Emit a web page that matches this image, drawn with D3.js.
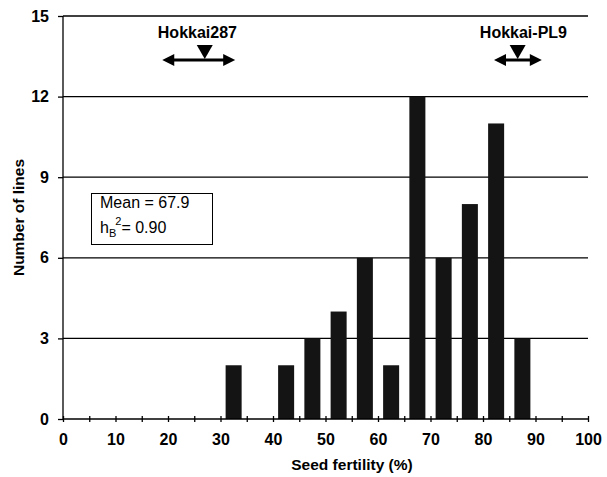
<!DOCTYPE html>
<html>
<head>
<meta charset="utf-8">
<script src="https://d3js.org/d3.v7.min.js"></script>
<style>
  body { margin: 0; background: #fff; }
  text { font-family: "Liberation Sans", Arial, sans-serif; }
</style>
</head>
<body>
<svg id="chart"></svg>
<script>
// data
var binStarts = [30, 40, 45, 50, 55, 60, 65, 70, 75, 80, 85];
var lineCounts = [2, 2, 3, 4, 6, 2, 12, 6, 8, 11, 3];
var xTicks = [0, 10, 20, 30, 40, 50, 60, 70, 80, 90, 100];
var yTicks = [0, 3, 6, 9, 12, 15];

// parent markers: name, label centre, mean, range
var parentNames = ['Hokkai287', 'Hokkai-PL9'];
var parentLabelAt = [25.6, 87.7];
var parentMeans = [27.0, 86.6];
var parentLow = [18.9, 82.1];
var parentHigh = [32.8, 91.2];

var margin = {top: 16, right: 19, bottom: 58, left: 63};

var svg = d3.select('#chart')
  .attr('width', 607)
  .attr('height', 477);

var g = svg.append('g')
  .attr('transform', 'translate(' + margin.left + ',' + margin.top + ')');

var xScale = d3.scaleLinear()
  .domain([0, 100])
  .range([0, 525]);

var yScale = d3.scaleLinear()
  .domain([0, 15])
  .range([403, 0]);

//gridlines
g.selectAll('.grid')
  .data(yTicks.filter(d => d > 0))
  .enter()
  .append('line')
    .attr('x1', 0)
    .attr('x2', xScale(100))
    .attr('y1', d => yScale(d))
    .attr('y2', d => yScale(d))
    .style('stroke', '#000')
    .style('stroke-width', 1.3);

//bars
var binWidth = xScale(5) - xScale(0);
var barWidth = binWidth * 0.61;
g.selectAll('.bar')
  .data(lineCounts)
  .enter()
  .append('rect')
    .attr('x', (d, i) => xScale(binStarts[i] + 2.5) - barWidth / 2)
    .attr('y', d => yScale(d))
    .attr('width', barWidth)
    .attr('height', d => yScale(0) - yScale(d))
    .style('fill', '#141414');

//x axis
var xAxis = d3.axisBottom(xScale)
  .tickValues(d3.range(0, 101, 5))
  .tickSize(6)
  .tickFormat(d => xTicks.indexOf(d) >= 0 ? d : '');

var gx = g.append('g')
  .attr('transform', 'translate(0,' + yScale(0) + ')')
  .call(xAxis);
gx.select('.domain').attr('d', 'M0,0H' + xScale(100)).style('stroke-width', 1.3);
gx.selectAll('.tick line').attr('y1', -3).attr('y2', 3).style('stroke-width', 1.3);
gx.selectAll('text')
  .attr('y', 26)
  .attr('dy', null)
  .style('font-size', '16px')
  .style('font-weight', 'bold')
  .style('fill', '#000');

//y axis
var yAxis = d3.axisLeft(yScale)
  .tickValues(yTicks)
  .tickSize(5)
  .tickPadding(9);

var gy = g.append('g').call(yAxis);
gy.select('.domain').attr('d', 'M0,0V' + yScale(0)).style('stroke-width', 1.3);
gy.selectAll('.tick line').style('stroke-width', 1.3);
gy.selectAll('text')
  .style('font-size', '16px')
  .style('font-weight', 'bold')
  .style('fill', '#000');

//axis titles
svg.append('text')
  .attr('x', 352)
  .attr('y', 470)
  .attr('text-anchor', 'middle')
  .style('font-size', '15.5px')
  .style('font-weight', 'bold')
  .text('Seed fertility (%)');

svg.append('text')
  .attr('transform', 'translate(24,' + (margin.top + yScale(7.5)) + ') rotate(-90)')
  .attr('text-anchor', 'middle')
  .style('font-size', '15.5px')
  .style('font-weight', 'bold')
  .text('Number of lines');

//parent markers
var arrowY = 60 - margin.top;
parentNames.forEach(function(name, i) {
  var cx = xScale(parentMeans[i]);
  var x0 = xScale(parentLow[i]);
  var x1 = xScale(parentHigh[i]);

  g.append('text')
    .attr('x', xScale(parentLabelAt[i]))
    .attr('y', 38 - margin.top)
    .attr('text-anchor', 'middle')
    .style('font-size', '16px')
    .style('font-weight', 'bold')
    .text(name);

  g.append('path')
    .attr('d', 'M' + (cx - 8) + ',' + (arrowY - 15) + 'L' + (cx + 8) + ',' + (arrowY - 15) + 'L' + cx + ',' + (arrowY - 1) + 'Z')
    .style('fill', '#000');

  g.append('line')
    .attr('x1', x0 + 8)
    .attr('x2', x1 - 8)
    .attr('y1', arrowY)
    .attr('y2', arrowY)
    .style('stroke', '#000')
    .style('stroke-width', 3);

  g.append('path')
    .attr('d', 'M' + x0 + ',' + arrowY + 'L' + (x0 + 12) + ',' + (arrowY - 6) + 'L' + (x0 + 12) + ',' + (arrowY + 6) + 'Z')
    .style('fill', '#000');

  g.append('path')
    .attr('d', 'M' + x1 + ',' + arrowY + 'L' + (x1 - 12) + ',' + (arrowY - 6) + 'L' + (x1 - 12) + ',' + (arrowY + 6) + 'Z')
    .style('fill', '#000');
});

/*STATS BOX*/
var box = svg.append('g');
box.append('rect')
  .attr('x', 91.5)
  .attr('y', 193.5)
  .attr('width', 121)
  .attr('height', 51)
  .style('fill', '#fff')
  .style('stroke', '#000')
  .style('stroke-width', 1);

box.append('text')
  .attr('x', 100)
  .attr('y', 208)
  .style('font-size', '16px')
  .text('Mean = 67.9');

var h2 = box.append('text')
  .attr('x', 100)
  .attr('y', 233)
  .style('font-size', '16px');
h2.append('tspan').text('h');
h2.append('tspan').attr('dy', 4).style('font-size', '11px').text('B');
h2.append('tspan').attr('dy', -12).attr('dx', -1).style('font-size', '11px').text('2');
h2.append('tspan').attr('dy', 8).text('= 0.90');
</script>
</body>
</html>
